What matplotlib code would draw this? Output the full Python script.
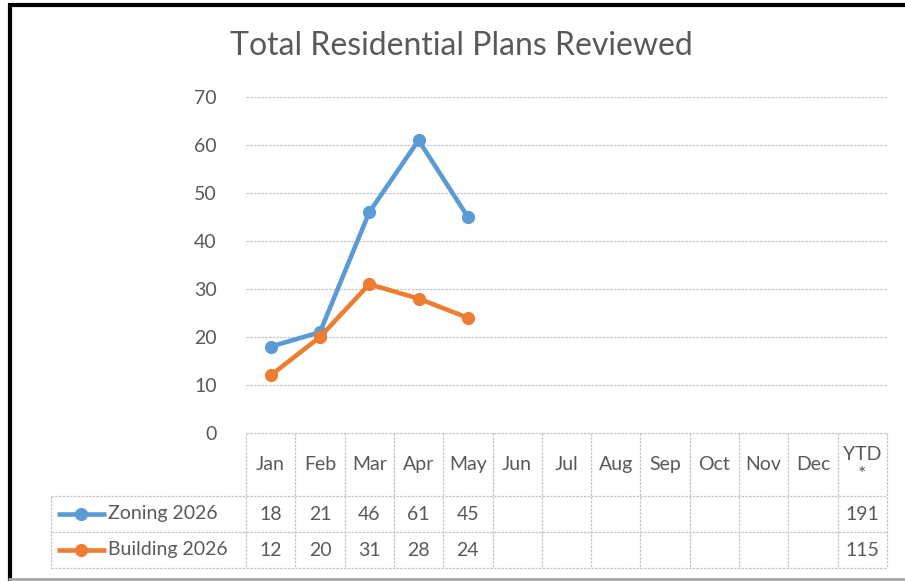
import matplotlib.pyplot as plt

plt.rcParams["font.family"] = ["Lato", "DejaVu Sans"]

months = ["Jan", "Feb", "Mar", "Apr", "May", "Jun", "Jul", "Aug", "Sep", "Oct", "Nov", "Dec"]
header = months + ["YTD\n*"]
zoning = [18, 21, 46, 61, 45]
building = [12, 20, 31, 28, 24]
ytd = [191, 115]
series_names = ["Zoning 2026", "Building 2026"]
colors = ["#5B9BD5", "#ED7D31"]
yticks = [0, 10, 20, 30, 40, 50, 60, 70]

W, H = 905, 581
text_col = "#595959"
grid_col = "#c4c4cc"
fs = 14

# layout in pixels
plot_l, plot_r = 246, 887
plot_top, plot_bot = 97, 433
tab_l = 51
row_lines = [496, 532, 568]

fig = plt.figure(figsize=(W / 100, H / 100), dpi=100)

# overlay in pixel coordinates for the table and the frame
ov = fig.add_axes([0, 0, 1, 1])
ov.set_xlim(0, W)
ov.set_ylim(H, 0)
ov.axis("off")

ax = fig.add_axes([plot_l / W, 1 - plot_bot / H,
                   (plot_r - plot_l) / W, (plot_bot - plot_top) / H])
ax.patch.set_alpha(0)
ncol = len(header)
ax.set_xlim(0, ncol)
ax.set_ylim(0, 70)
for s in ax.spines.values():
    s.set_visible(False)
ax.set_xticks([])
ax.set_yticks(yticks)
ax.set_yticklabels([str(v) for v in yticks], fontsize=fs, color=text_col)
ax.tick_params(axis="y", length=0, pad=21)
for v in yticks[1:]:
    ax.axhline(v, color=grid_col, lw=0.9, ls=(0, (2, 1)), zorder=0)

xs = [i + 0.5 for i in range(len(zoning))]
for vals, c in zip([zoning, building], colors):
    ax.plot(xs, vals, color=c, lw=3.3, marker="o", ms=8.5, zorder=3)

# title
fig.text(461 / W, 1 - 46 / H, "Total Residential Plans Reviewed",
         ha="center", va="center", fontsize=23, color=text_col)

# table grid
colw = (plot_r - plot_l) / ncol
dash = dict(color=grid_col, lw=0.9, ls=(0, (2, 1)))
ov.plot([plot_l, plot_r], [plot_bot, plot_bot], **dash)
for y in row_lines:
    ov.plot([tab_l, plot_r], [y, y], **dash)
ov.plot([tab_l, tab_l], [row_lines[0], row_lines[-1]], **dash)
for i in range(ncol + 1):
    x = plot_l + i * colw
    ov.plot([x, x], [plot_bot, row_lines[-1]], **dash)

# header labels
hdr_y = (plot_bot + row_lines[0]) / 2
for i, lab in enumerate(header):
    ov.text(plot_l + (i + 0.5) * colw, hdr_y, lab, ha="center", va="center",
            fontsize=fs, color=text_col, linespacing=1.25)

# data rows
rows = [zoning, building]
for r, (vals, name, c, tot) in enumerate(zip(rows, series_names, colors, ytd)):
    yc = (row_lines[r] + row_lines[r + 1]) / 2
    ov.plot([57, 106], [yc, yc], color=c, lw=3.3, solid_capstyle="butt")
    ov.plot([81], [yc], color=c, marker="o", ms=8.5)
    ov.text(108, yc, name, ha="left", va="center", fontsize=fs, color=text_col)
    for i, v in enumerate(vals):
        ov.text(plot_l + (i + 0.5) * colw, yc, str(v), ha="center", va="center",
                fontsize=fs, color=text_col)
    ov.text(plot_l + (ncol - 0.5) * colw, yc, str(tot), ha="center", va="center",
            fontsize=fs, color=text_col)

# outer frame
ov.plot([9.5, 9.5], [3, H], color="black", lw=3, solid_capstyle="butt")
ov.plot([8, W], [4.5, 4.5], color="black", lw=3, solid_capstyle="butt")
ov.plot([8, W], [579, 579], color="#a6a6a6", lw=2, solid_capstyle="butt")

fig.savefig("out.png", dpi=100)
